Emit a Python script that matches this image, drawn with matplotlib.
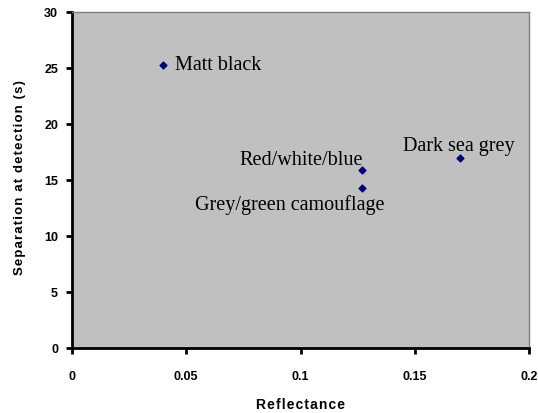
import matplotlib
matplotlib.use('Agg')
import matplotlib.pyplot as plt

# reflectance vs. detection separation for each paint scheme
schemes = ['Matt black', 'Red/white/blue', 'Grey/green camouflage', 'Dark sea grey']
reflectance = [0.040, 0.127, 0.127, 0.170]
separation = [25.3, 15.9, 14.3, 17.0]

# label placement (offset in pixels, alignment)
label_pos = [((12, 0), 'left', 'center'),
             ((1, 6), 'right', 'baseline'),
             ((22, -6), 'right', 'top'),
             ((-57, 8), 'left', 'baseline')]

fig = plt.figure(figsize=(5.38, 4.14), dpi=100)
ax = fig.add_axes([72 / 538, 1 - 349 / 414, 457 / 538, 336 / 414])
ax.set_facecolor('#c0c0c0')

ax.scatter(reflectance, separation, marker='D', s=12, color='#000080', zorder=3)

for name, x, y, (off, ha, va) in zip(schemes, reflectance, separation, label_pos):
    ax.annotate(name, (x, y), xytext=off, textcoords='offset pixels',
                ha=ha, va=va, fontsize=14.5, family='Liberation Serif')

ax.set_xlim(0, 0.2)
ax.set_ylim(0, 30)
ax.set_xticks([0, 0.05, 0.1, 0.15, 0.2])
ax.set_xticklabels(['0', '0.05', '0.1', '0.15', '0.2'])
ax.set_yticks(range(0, 31, 5))

for s in ['left', 'bottom']:
    ax.spines[s].set_linewidth(2)
    ax.spines[s].set_color('black')
for s in ['top', 'right']:
    ax.spines[s].set_linewidth(1)
    ax.spines[s].set_color('#808080')

ax.tick_params(direction='out', length=4, width=2, labelsize=9)
ax.tick_params(axis='x', pad=12)
ax.tick_params(axis='y', pad=6)
for lbl in ax.get_xticklabels() + ax.get_yticklabels():
    lbl.set_fontweight('bold')
    lbl.set_family('Liberation Sans')


def spaced(s):
    # widen the letter spacing of the axis titles
    return '\u200a'.join(s)


ax.set_xlabel(spaced('Reflectance'), fontsize=10, fontweight='bold',
              family='Liberation Sans', labelpad=11)
ax.set_ylabel(spaced('Separation at detection (s)'), fontsize=9.5, fontweight='bold',
              family='Liberation Sans', labelpad=12)
ax.yaxis.set_label_coords(-0.100, 0.51)

fig.savefig('out.png', dpi=100)
